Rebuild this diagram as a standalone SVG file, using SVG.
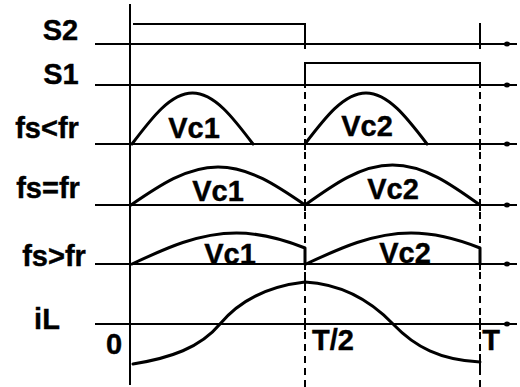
<svg xmlns="http://www.w3.org/2000/svg" width="520" height="387" viewBox="0 0 520 387">
<style>
.ax{stroke:#000;stroke-width:2;fill:none}
.sw{stroke:#000;stroke-width:2;fill:none}
.wv{stroke:#000;stroke-width:3;fill:none;stroke-linejoin:round;stroke-linecap:round}
.dash{stroke:#000;stroke-width:2;fill:none;stroke-dasharray:7 5}
.tick{stroke:#000;stroke-width:2}
.dot{fill:#000}
text{font-family:"Liberation Sans",Arial,sans-serif;font-weight:bold;font-size:29px;fill:#000;text-anchor:middle;stroke:#000;stroke-width:0.4}
</style>
<rect width="520" height="387" fill="#fff"/>
<g id="axes">
<line class="ax" x1="130" y1="4" x2="130" y2="385"/>
<line class="ax" x1="95" y1="44" x2="517" y2="44"/>
<line class="ax" x1="95" y1="85" x2="517" y2="85"/>
<line class="ax" x1="95" y1="144" x2="517" y2="144"/>
<line class="ax" x1="95" y1="205" x2="517" y2="205"/>
<line class="ax" x1="95" y1="264" x2="517" y2="264"/>
<line class="ax" x1="95" y1="324" x2="517" y2="324"/>
<ellipse class="dot" cx="507" cy="44" rx="3" ry="2.5"/>
<ellipse class="dot" cx="507" cy="85" rx="3" ry="2.5"/>
<ellipse class="dot" cx="507" cy="144" rx="3" ry="2.5"/>
<ellipse class="dot" cx="507" cy="205" rx="3" ry="2.5"/>
<ellipse class="dot" cx="507" cy="264" rx="3" ry="2.5"/>
<ellipse class="dot" cx="507" cy="324" rx="3" ry="2.5"/>
</g>
<g id="markers">
<line class="dash" x1="305" y1="92" x2="305" y2="387"/>
<line class="dash" x1="480" y1="92" x2="480" y2="387"/>
<line class="tick" x1="480" y1="23" x2="480" y2="49"/>
<line class="tick" x1="305" y1="139" x2="305" y2="150"/>
<line class="tick" x1="480" y1="139" x2="480" y2="150"/>
<line class="tick" x1="305" y1="199" x2="305" y2="211"/>
<line class="tick" x1="480" y1="199" x2="480" y2="211"/>
<line class="tick" x1="305" y1="258" x2="305" y2="270"/>
<line class="tick" x1="480" y1="258" x2="480" y2="270"/>
<line class="tick" x1="305" y1="274" x2="305" y2="291"/>
<line class="tick" x1="305" y1="318" x2="305" y2="330"/>
<line class="tick" x1="480" y1="318" x2="480" y2="330"/>
<line class="tick" x1="480" y1="354" x2="480" y2="368"/>
</g>
<g id="s2">
<polyline class="sw" points="133,24 305,24 305,49"/>
</g>
<g id="s1">
<polyline class="sw" points="305,88 305,63 480,63 480,88"/>
</g>
<g id="fs-lt-fr">
<path class="wv" d="M132,144 C151.7,117.9 170.6,93 192.5,93 C214.4,93 233.3,117.9 253,144"/>
<path class="wv" d="M305,144 C324.9,117.9 343.9,93 366,93 C388.1,93 407.1,117.9 427,144"/>
</g>
<g id="fs-eq-fr">
<path class="wv" d="M131,205 C159.4,185.5 186.5,167 218,167 C249.5,167 276.6,185.5 305,205"/>
<path class="wv" d="M305,205 C333.5,184.5 360.8,165 392.5,165 C424.2,165 451.5,184.5 480,205"/>
</g>
<g id="fs-gt-fr">
<path class="wv" d="M132,264 C166.1,248.1 198.7,233 236.5,233 C259.3,233 282.2,238.9 305,248 L305,264"/>
<path class="wv" d="M306,264 C340.3,248.1 373.1,233 411.1,233 C434.1,233 457,238.8 480,248 L480,264"/>
</g>
<g id="il">
<path class="wv" d="M133,364 C170,358 200,348 220,324 C240,300 270,286 305,282 C340,284 370,300 393,324 C415,347 440,360 480,362"/>
</g>
<g id="labels">
<text x="60.5" y="40">S2</text>
<text x="61" y="84">S1</text>
<text x="47" y="138">fs&lt;fr</text>
<text x="48" y="198">fs=fr</text>
<text x="54" y="266">fs&gt;fr</text>
<text x="47" y="329">iL</text>
<text x="114" y="354">0</text>
<text x="194" y="138">Vc1</text>
<text x="367" y="136">Vc2</text>
<text x="218" y="201">Vc1</text>
<text x="393" y="199">Vc2</text>
<text x="230" y="264">Vc1</text>
<text x="405" y="263">Vc2</text>
<text x="333" y="350">T/2</text>
<text x="491" y="350">T</text>
</g>
</svg>
